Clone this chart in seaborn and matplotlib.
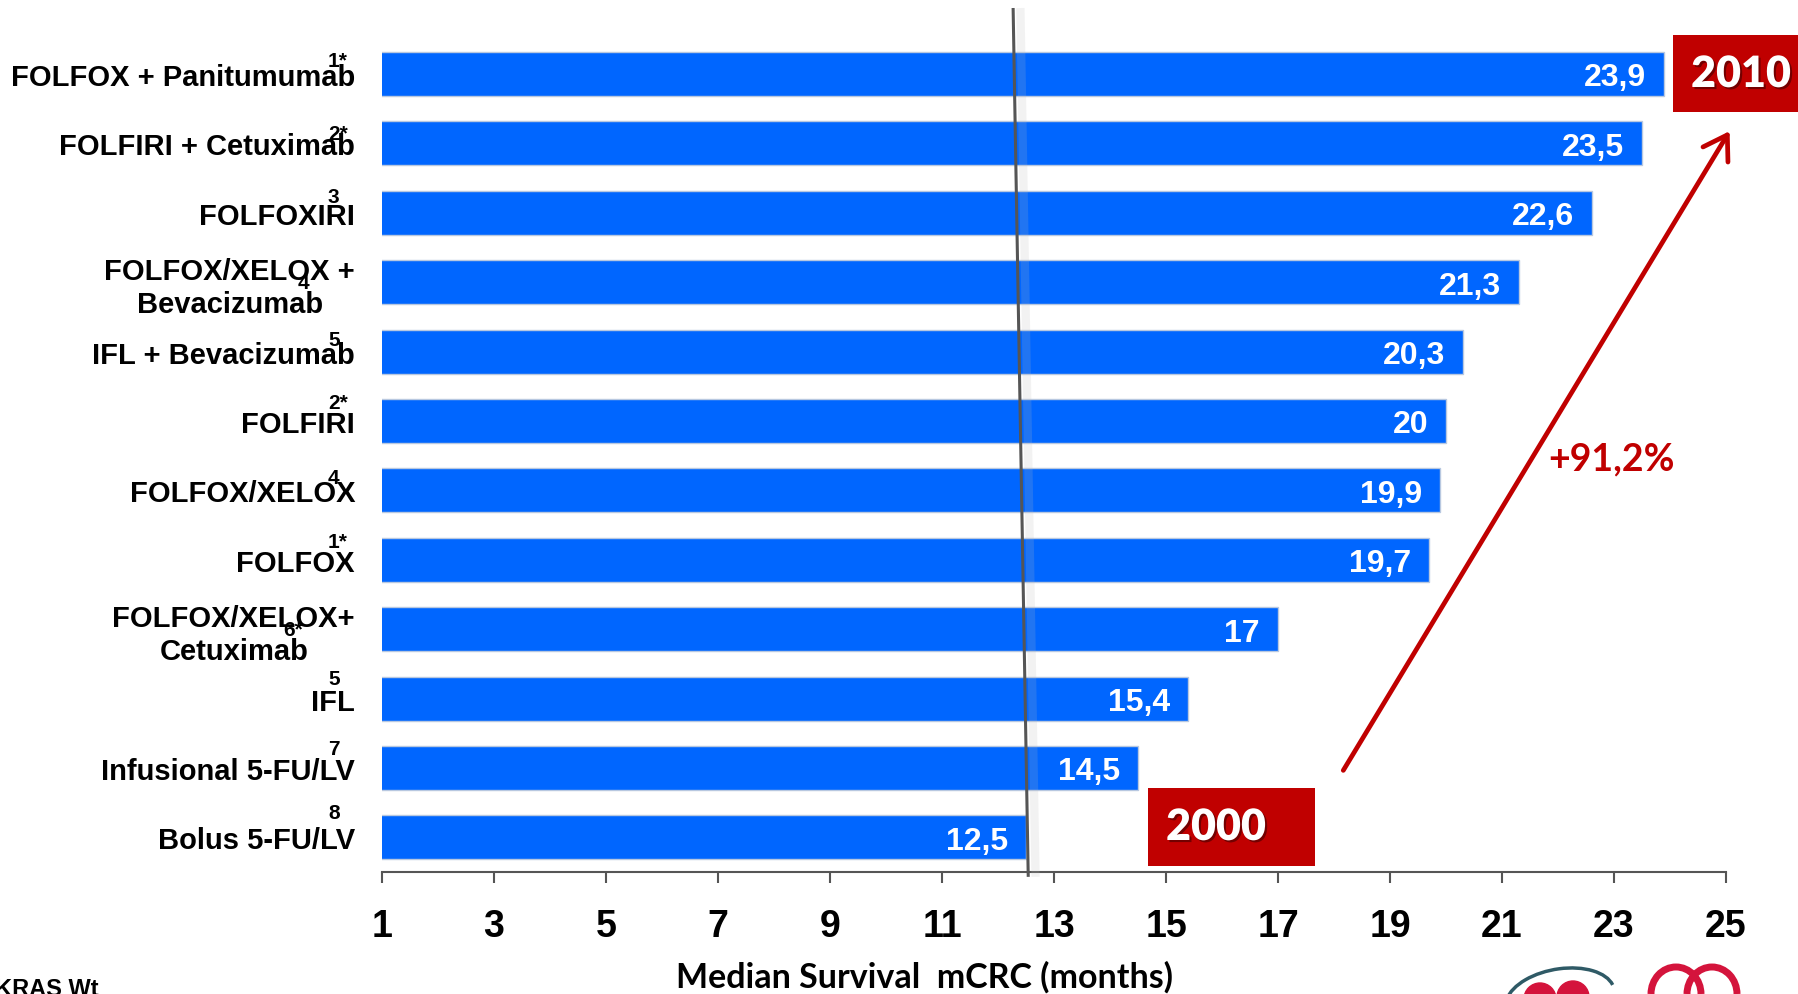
import matplotlib
matplotlib.use("Agg")
import matplotlib.pyplot as plt
import seaborn as sns
import pandas as pd
from matplotlib.patches import Rectangle, FancyArrowPatch, Circle, Arc
from matplotlib.transforms import blended_transform_factory
import matplotlib.patheffects as pe

# ---------------- data ----------------
treatments = [
    "FOLFOX + Panitumumab",
    "FOLFIRI + Cetuximab",
    "FOLFOXIRI",
    "FOLFOX/XELOX +\nBevacizumab",
    "IFL + Bevacizumab",
    "FOLFIRI",
    "FOLFOX/XELOX",
    "FOLFOX",
    "FOLFOX/XELOX+\nCetuximab",
    "IFL",
    "Infusional 5-FU/LV",
    "Bolus 5-FU/LV",
]
survival = [23.9, 23.5, 22.6, 21.3, 20.3, 20.0, 19.9, 19.7, 17.0, 15.4, 14.5, 12.5]
references = ["1*", "2*", "3", "4", "5", "2*", "4", "1*", "6*", "5", "7", "8"]
x_ticks = [1, 3, 5, 7, 9, 11, 13, 15, 17, 19, 21, 23, 25]
x_label = "Median Survival  mCRC (months)"
increase_label = "+91,2%"
year_start = "2000"
year_end = "2010"
footnote = "KRAS Wt"

# reference-mark placement (pixels: left offset from axis, rise above bar centre)
ref_dx = [-54, -54, -54, -84, -54, -54, -54, -54, -99, -54, -54, -54]
ref_dy = [13, 10, 16, 0, 12, 18, 13, 18, 0, 20, 19, 25]

W, H = 1798, 995
DPI = 100
PX = 72.0 / DPI  # points per pixel

sns.set_theme(style="white")
plt.rcParams["font.family"] = ["Liberation Sans", "DejaVu Sans"]
plt.rcParams["text.color"] = "black"

fig = plt.figure(figsize=(W / DPI, H / DPI), dpi=DPI)
ax = fig.add_axes([382 / W, 1 - 873 / H, (1726 - 382) / W, (873 - 9) / H])

df = pd.DataFrame({"treatment": treatments, "months": survival})
sns.barplot(data=df, x="months", y="treatment", orient="h", ax=ax,
            color="#0066FF", saturation=1, width=0.634,
            edgecolor="#b8c8e0", linewidth=1.0)

ax.set_xlim(1, 25)
ax.set_ylim(11.5, -0.95)
ax.set_xticks(x_ticks)
ax.set_xticklabels([str(t) for t in x_ticks],
                   family=["Liberation Sans Narrow", "Liberation Sans"],
                   fontweight="bold", fontsize=27, color="black")
ax.set_yticks(range(len(treatments)))
ax.set_yticklabels(treatments, fontsize=21, fontweight="bold",
                   multialignment="center", color="black")
ax.tick_params(axis="y", left=False, length=0, pad=27 * PX)
ax.tick_params(axis="x", bottom=True, direction="out", length=11 * PX,
               width=1.5, color="#555555", pad=25 * PX)
ax.set_xlabel("")
ax.set_ylabel("")
for s in ["left", "top", "right"]:
    ax.spines[s].set_visible(False)
ax.spines["bottom"].set_color("#555555")
ax.spines["bottom"].set_linewidth(1.5)

# value labels inside bars
for i, v in enumerate(survival):
    txt = f"{v:g}".replace(".", ",")
    ax.annotate(txt, xy=(v, i), xytext=(-18 * PX, 0), textcoords="offset points",
                ha="right", va="center_baseline", color="white", fontsize=23,
                fontweight="bold")

# reference superscripts
btrans = blended_transform_factory(ax.transAxes, ax.transData)
for i, r in enumerate(references):
    ax.annotate(r, xy=(0, i), xycoords=btrans,
                xytext=(ref_dx[i] * PX, ref_dy[i] * PX), textcoords="offset points",
                ha="left", va="center", fontsize=15, fontweight="bold",
                color="black", annotation_clip=False)

# vertical reference line (at the 2000 baseline value) with soft shadow
base = survival[-1]
ax.plot([base - 0.10, base + 0.17], [-0.95, 11.57], color="#bbbbbb", lw=6,
        alpha=0.18, clip_on=False, solid_capstyle="butt", zorder=3)
ax.plot([base - 0.23, base + 0.04], [-0.95, 11.57], color="#555555", lw=2.2,
        clip_on=False, solid_capstyle="butt", zorder=4)

# arrow from 2000 to 2010
arrow = FancyArrowPatch((18.14, 10.07), (25.09, 0.79),
                        arrowstyle="->,head_length=0.55,head_width=0.35",
                        mutation_scale=30, color="#C00000", lw=3.4,
                        clip_on=False, zorder=5)
ax.add_patch(arrow)

# year boxes
def year_box(x0, y0, x1, y1, text, cx, cy):
    fig.add_artist(Rectangle((x0 / W, 1 - y1 / H), (x1 - x0) / W, (y1 - y0) / H,
                             transform=fig.transFigure, facecolor="#C00000",
                             edgecolor="none"))
    fig.text(cx / W, 1 - cy / H, text, ha="center", va="center", color="white",
             fontsize=31, fontweight="heavy", family=["Lato", "DejaVu Sans"],
             path_effects=[pe.withSimplePatchShadow(offset=(1.5, -1.5),
                                                    shadow_rgbFace="#400000",
                                                    alpha=0.6)])

year_box(1148, 789, 1315, 867, year_start, 1216, 828)
year_box(1673, 36, 1800, 113, year_end, 1741, 75)

fig.text(1611 / W, 1 - 459 / H, increase_label, ha="center", va="center",
         color="#C00000", fontsize=27, fontweight="bold",
         family=["Lato", "DejaVu Sans"])

fig.text(925 / W, 1 - 977 / H, x_label, ha="center", va="center",
         color="black", fontsize=24.5, fontweight="bold",
         family=["Lato", "DejaVu Sans"])

fig.text(-5 / W, 1 - 978 / H, footnote, ha="left", va="top", color="black",
         fontsize=17, fontweight="bold")

# partial logos at the bottom-right edge (pixel overlay, y grows downward)
ov = fig.add_axes([0, 0, 1, 1], zorder=-1)
ov.set_xlim(0, W)
ov.set_ylim(H, 0)
ov.axis("off")
ov.add_patch(Circle((1540, 1000), 16, color="#d4143c"))
ov.add_patch(Circle((1573, 998), 16, color="#d4143c"))
ov.add_patch(Arc((1560, 1000), 110, 60, theta1=190, theta2=355,
                 color="#2f5a66", lw=2.5, angle=-10))
ov.add_patch(Arc((1676, 995), 50, 54, theta1=180, theta2=360,
                 color="#d4143c", lw=5))
ov.add_patch(Arc((1712, 995), 50, 54, theta1=180, theta2=360,
                 color="#d4143c", lw=5))

fig.savefig("out.png", dpi=DPI)
